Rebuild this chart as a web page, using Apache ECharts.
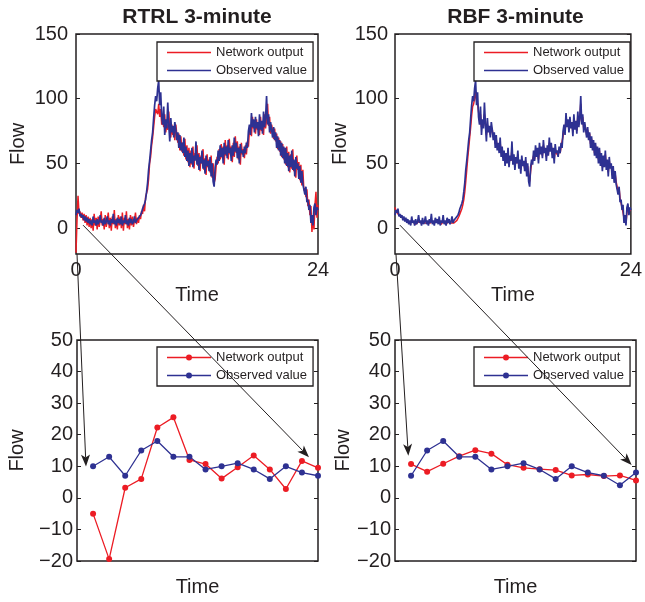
<!DOCTYPE html>
<html><head><meta charset="utf-8">
<script src="https://cdn.jsdelivr.net/npm/echarts@6/dist/echarts.min.js"></script>
<style>html,body{margin:0;padding:0;background:#fff}#c{width:645px;height:602px}</style>
</head><body><div id="c"></div>
<script>
// ---- 24-hour flow, one value every 0.1 h (6 min), t = 0 .. 24 ----
const observed = [
 10,14,12,15,9,11,8,10,6,9,
 5,8,4,7,3,6,2,9,4,6,
 2,7,3,5,10,4,6,2,8,3,
 5,9,3,6,2,7,4,11,3,6,
 2,8,4,7,3,9,2,6,4,10,
 3,6,2,8,4,7,3,5,9,4,
 6,5,8,7,10,12,15,14,19,22,
 28,35,45,52,60,68,74,85,95,102,
 98,108,114,95,105,86,80,94,72,84,
 77,97,80,67,85,74,79,70,82,76,
 68,74,62,72,60,66,58,70,55,63,
 52,60,48,58,50,62,47,56,52,67,
 49,57,45,55,50,60,46,53,42,56,
 48,52,44,55,40,50,36,32,47,53,
 49,60,52,64,55,62,50,66,57,63,
 54,68,58,62,52,64,56,70,59,66,
 54,62,50,65,58,60,55,63,58,66,
 62,75,80,72,89,78,84,74,86,77,
 82,71,88,76,83,73,90,78,85,102,
 80,88,74,82,76,70,78,68,74,62,
 71,60,68,56,66,54,63,50,62,48,
 58,44,56,47,60,45,53,40,55,46,
 50,38,48,35,44,34,30,26,32,20,
 22,14,18,4,10,2,16,19,10,16,
 14];
const rtrlOutput = [
 -19,6,25,11,13,8,12,6,11,4,
 10,2,9,1,8,0,7,-2,11,2,
 8,-1,9,1,6,13,2,7,-1,10,
 1,6,12,0,8,-2,9,3,14,0,
 7,-1,10,2,9,0,12,-2,8,3,
 13,0,7,-1,10,2,9,1,6,12,
 3,8,4,10,7,13,11,18,13,24,
 27,30,38,50,55,64,70,78,86,92,
 92,88,96,86,92,80,84,78,88,74,
 80,76,90,74,70,80,72,78,68,80,
 72,66,73,60,71,59,66,56,69,53,
 64,51,62,47,60,49,63,46,58,53,
 64,48,58,44,56,50,61,45,54,41,
 57,47,53,43,56,39,50,35,38,48,
 55,50,61,53,65,54,63,49,68,56,
 64,53,69,57,63,51,66,55,71,58,
 67,53,63,49,66,57,61,54,64,57,
 67,63,76,79,71,86,77,82,73,84,
 76,80,72,86,75,82,72,88,77,84,
 96,79,86,73,80,75,69,77,67,73,
 61,70,59,67,55,65,53,62,49,63,
 47,59,43,57,46,61,44,52,39,56,
 45,51,37,49,33,45,29,31,24,30,
 17,22,10,17,-3,9,-1,18,28,8,
 18];
const rbfOutput = [
 16,13,12,11,12,10,9,9,8,7,
 7,6,6,5,5,4,4,4,5,4,
 4,3,4,4,5,5,4,4,4,4,
 4,5,5,4,4,4,4,6,5,4,
 4,4,5,4,4,5,4,3,4,5,
 5,4,3,4,5,4,4,4,5,5,
 4,5,5,6,7,9,11,12,15,18,
 22,28,36,45,54,62,70,78,87,94,
 96,100,106,98,96,90,84,88,78,82,
 79,88,82,72,80,76,78,72,78,76,
 70,72,65,69,62,64,60,66,58,61,
 55,58,51,56,52,58,50,54,52,61,
 52,55,48,53,50,57,49,52,45,53,
 49,51,46,52,43,48,40,36,44,50,
 49,56,53,60,56,60,53,62,58,61,
 56,64,59,61,55,61,57,66,60,64,
 57,60,53,61,58,59,56,61,58,63,
 62,71,77,74,85,80,83,77,84,79,
 81,74,85,78,82,75,87,80,84,96,
 83,86,77,80,77,72,76,70,73,65,
 69,62,66,58,64,56,61,53,60,51,
 56,47,53,49,57,48,51,43,52,47,
 49,41,46,38,42,36,32,28,31,23,
 22,16,17,8,9,4,12,17,12,14,
 14];
const hourStep = 0.1;
const flowTicksTop = [0, 50, 100, 150];

// ---- zoomed window: first 15 samples (3-minute steps) ----
const detailSteps = [1,2,3,4,5,6,7,8,9,10,11,12,13,14,15];
const detailRTRLOutput   = [-5, -19.4, 3.2, 6, 22.3, 25.5, 12, 10.7, 6.1, 9.7, 13.4, 9, 2.8, 11.7, 9.5];
const detailRTRLObserved = [10, 13, 7, 15, 18, 13, 13, 9, 10, 11, 9, 6, 10, 8, 7];
const detailRBFOutput    = [10.7, 8.3, 10.8, 13.2, 15.1, 14, 10.5, 9.5, 9.1, 8.8, 7.1, 7.4, 6.9, 7.1, 5.5];
const detailRBFObserved  = [7, 15, 18, 13, 13, 9, 10, 11, 9, 6, 10, 8, 7, 4, 8];

const titles = ['RTRL 3-minute', 'RBF 3-minute'];
const nameOut = 'Network output', nameObs = 'Observed value';

// arrows: from a point of the day plot to a point of the zoomed plot (data units)
const arrowLinks = [
  {from:[0, 0.1, -20], to:[2, 0.56, 9.9]},
  {from:[0, 0.7, 2.3], to:[2, 14.44, 12.9]},
  {from:[1, 0.1, -20], to:[3, 0.83, 13.3]},
  {from:[1, 0.5, 2.3], to:[3, 14.73, 10.4]}
];

const RED = '#ec1c24', BLUE = '#2e3192', INK = '#231f20';
const FONT = '"Liberation Sans", Arial, Helvetica, sans-serif';
const LINE_ICON = 'path://M0,0H44V1.4H0Z';
const DOT_ICON = 'path://M0,2.35H44V3.65H0Z M19,3A3,3 0 1,1 25,3A3,3 0 1,1 19,3Z';

const chart = echarts.init(document.getElementById('c'), null, {renderer:'canvas'});

const grids = [
  {left:76, top:34, width:242, height:220},
  {left:395, top:34, width:241, height:220},
  {left:77, top:340, width:241, height:221},
  {left:395, top:340, width:241, height:221}
].map(g => Object.assign(g, {show:true, borderColor:INK, borderWidth:1.5, backgroundColor:'#fff', containLabel:false}));

const minus = v => v < 0 ? '\u2212' + Math.abs(v) : String(v);
const labelStyle = {color:INK, fontSize:20, fontFamily:FONT};
const nameStyle = {color:INK, fontSize:20, fontFamily:FONT};

const xAxes = [0,1,2,3].map(i => {
  const top = i < 2;
  return {
    type:'value', gridIndex:i, min:0, max: top ? 24 : 15, interval: top ? 24 : 5,
    axisLine:{show:false}, axisTick:{show:false}, splitLine:{show:false},
    axisLabel: top ? Object.assign({show:true, margin:6, showMinLabel:true, showMaxLabel:true}, labelStyle) : {show:false},
    name:'Time', nameLocation:'middle', nameGap: top ? 31 : 16, nameTextStyle:nameStyle
  };
});
const yAxes = [];
[0,1,2,3].forEach(i => {
  const top = i < 2;
  const base = top
    ? {min:-20, max:150}
    : {min:-20, max:50, interval:10};
  const tick = top ? {show:true, inside:true, length:4, customValues:flowTicksTop, lineStyle:{color:INK, width:1}}
                   : {show:true, inside:true, length:4, lineStyle:{color:INK, width:1}};
  yAxes.push(Object.assign({
    type:'value', gridIndex:i, position:'left',
    axisLine:{show:false}, splitLine:{show:false}, axisTick:tick,
    axisLabel: Object.assign({margin: top ? (i===0 ? 8 : 7) : 4, formatter:minus}, labelStyle, top ? {customValues:flowTicksTop} : {}),
    name:'Flow', nameLocation:'middle', nameRotate:90,
    nameGap: [48, 44, 50, 40][i], nameTextStyle:nameStyle
  }, base));
  yAxes.push(Object.assign({
    type:'value', gridIndex:i, position:'right',
    axisLine:{show:false}, splitLine:{show:false}, axisTick:tick, axisLabel:{show:false}
  }, base));
});

const dayData = arr => arr.map((v, i) => [i * hourStep, v]);
const stepData = arr => arr.map((v, i) => [detailSteps[i], v]);

function dayLine(name, arr, color, g, w) {
  return {type:'line', name, xAxisIndex:g, yAxisIndex:g*2, data:dayData(arr), symbol:'none',
    lineStyle:{color, width:w}, itemStyle:{color}, animation:false, clip:true};
}
function stepLine(name, arr, color, g) {
  return {type:'line', name: name + ' ', xAxisIndex:g, yAxisIndex:g*2, data:stepData(arr),
    symbol:'circle', symbolSize:6, showSymbol:true,
    lineStyle:{color, width:1.3}, itemStyle:{color}, animation:false, clip:false};
}

const series = [
  dayLine(nameOut, rtrlOutput, RED, 0, 1.5), dayLine(nameObs, observed, BLUE, 0, 1.7),
  dayLine(nameOut, rbfOutput, RED, 1, 1.5), dayLine(nameObs, observed, BLUE, 1, 1.7),
  stepLine(nameOut, detailRTRLOutput, RED, 2), stepLine(nameObs, detailRTRLObserved, BLUE, 2),
  stepLine(nameOut, detailRBFOutput, RED, 3), stepLine(nameObs, detailRBFObserved, BLUE, 3)
];

const legendBase = {
  orient:'vertical', itemWidth:44, itemHeight:13, itemGap:5, padding:[4,6,4,10],
  borderColor:INK, borderWidth:1.3, backgroundColor:'#fff', borderRadius:0,
  textStyle:{fontSize:13, fontFamily:FONT, color:INK}, selectedMode:false, align:'left', z:10,
  itemStyle:{borderWidth:0}, formatter: n => n.trim()
};
const topItems = [{name:nameOut, icon:LINE_ICON}, {name:nameObs, icon:LINE_ICON}];
const botItems = [{name:nameOut + ' ', icon:DOT_ICON}, {name:nameObs + ' ', icon:DOT_ICON}];
const legends = [
  Object.assign({left:157, top:42, data:topItems}, legendBase),
  Object.assign({left:474, top:42, data:topItems}, legendBase),
  Object.assign({left:157, top:347, data:botItems}, legendBase),
  Object.assign({left:474, top:347, data:botItems}, legendBase)
];

chart.setOption({
  animation:false,
  backgroundColor:'#fff',
  textStyle:{fontFamily:FONT},
  grid:grids, xAxis:xAxes, yAxis:yAxes, legend:legends, series
});

// titles + arrows
const gfx = [];
titles.forEach((t, i) => {
  const g = grids[i];
  gfx.push({type:'text', z:20, x:g.left + g.width/2, y:17,
    style:{text:t, align:'center', verticalAlign:'middle', fill:INK, font:'bold 21px ' + FONT}});
});
arrowLinks.forEach(a => {
  const p0 = chart.convertToPixel({xAxisIndex:a.from[0], yAxisIndex:a.from[0]*2}, [a.from[1], a.from[2]]);
  const p1 = chart.convertToPixel({xAxisIndex:a.to[0], yAxisIndex:a.to[0]*2}, [a.to[1], a.to[2]]);
  const dx = p1[0]-p0[0], dy = p1[1]-p0[1], L = Math.hypot(dx, dy);
  const ux = dx/L, uy = dy/L, nx = -uy, ny = ux;
  const len = 12, half = 4.5, notch = 9;
  const notchPt = [p1[0]-ux*notch, p1[1]-uy*notch];
  gfx.push({type:'line', z:30, silent:true, shape:{x1:p0[0], y1:p0[1], x2:notchPt[0], y2:notchPt[1]},
    style:{stroke:INK, lineWidth:1}});
  gfx.push({type:'polygon', z:30, silent:true, shape:{points:[
    [p1[0], p1[1]],
    [p1[0]-ux*len + nx*half, p1[1]-uy*len + ny*half],
    notchPt,
    [p1[0]-ux*len - nx*half, p1[1]-uy*len - ny*half]
  ]}, style:{fill:INK}});
});
chart.setOption({graphic:gfx});
</script>
</body></html>
